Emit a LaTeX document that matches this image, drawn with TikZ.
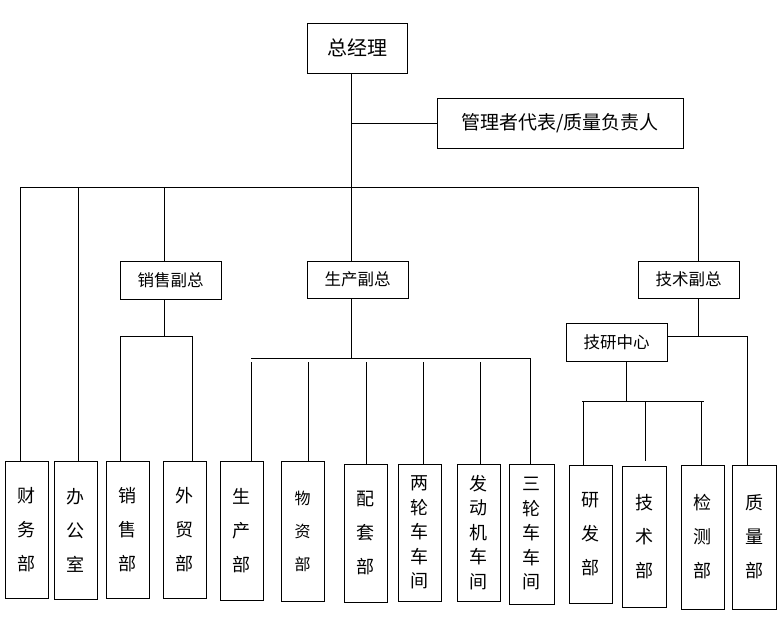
\documentclass[tikz,border=0pt]{standalone}
\usepackage{fontspec}
\setmainfont{Noto Sans CJK SC}
\begin{document}
\begin{tikzpicture}[x=1pt,y=-1pt,
  ln/.style={line width=0.9pt},
  box/.style={draw,line width=0.9pt,inner sep=0pt,align=center},
  topfont/.style={font=\fontsize{20}{22}\selectfont},
  repfont/.style={font=\fontsize{19}{22}\selectfont},
  midfont/.style={font=\fontsize{16.5}{18}\selectfont},
  vthree/.style={font=\fontsize{18}{34}\selectfont},
  vfive/.style={font=\fontsize{18}{24.5}\selectfont}]
\useasboundingbox (0,0) rectangle (781,618);
% upper boxes
\node[box,topfont,minimum width=100pt,minimum height=50pt] (top) at (357,48) {总经理};
\node[box,repfont,minimum width=246pt,minimum height=50pt] (rep) at (560,123) {管理者代表/质量负责人};
\node[box,midfont,minimum width=101pt,minimum height=38pt] (sales) at (170.5,280) {销售副总};
\node[box,midfont,minimum width=101pt,minimum height=37pt] (prod) at (357.5,279.5) {生产副总};
\node[box,midfont,minimum width=101pt,minimum height=37pt] (tech) at (688.5,279.5) {技术副总};
\node[box,midfont,minimum width=101pt,minimum height=38pt] (rnd) at (616.5,342) {技研中心};
% bottom boxes
\node[box,vthree,minimum width=43pt,minimum height=137pt] (fin) at (26.5,529.5) {财\\务\\部};
\node[box,vthree,minimum width=43pt,minimum height=138pt] (off) at (75.5,530) {办\\公\\室};
\node[box,vthree,minimum width=43pt,minimum height=137pt] (sal) at (127.5,529.5) {销\\售\\部};
\node[box,vthree,minimum width=43pt,minimum height=137pt] (ftr) at (184.5,529.5) {外\\贸\\部};
\node[box,vthree,minimum width=43pt,minimum height=139pt] (pdp) at (241.5,530.5) {生\\产\\部};
\node[box,font=\fontsize{16}{33}\selectfont,minimum width=43pt,minimum height=140pt] (mat) at (302.5,531) {物\\资\\部};
\node[box,vthree,minimum width=43pt,minimum height=138pt] (sup) at (365.5,533) {配\\套\\部};
\node[box,vfive,minimum width=43pt,minimum height=137pt] (two) at (419.5,532.5) {两\\轮\\车\\车\\间};
\node[box,vfive,minimum width=43pt,minimum height=137pt] (eng) at (478.5,532.5) {发\\动\\机\\车\\间};
\node[box,vfive,minimum width=45pt,minimum height=140pt] (thr) at (531.5,534) {三\\轮\\车\\车\\间};
\node[box,vthree,minimum width=43pt,minimum height=138pt] (dev) at (590.5,534) {研\\发\\部};
\node[box,vthree,minimum width=44pt,minimum height=141pt] (tcd) at (644,536.5) {技\\术\\部};
\node[box,vthree,minimum width=43pt,minimum height=144pt] (tst) at (702.5,537) {检\\测\\部};
\node[box,vthree,minimum width=44pt,minimum height=144pt] (qua) at (754,537) {质\\量\\部};
% junction coordinates
\coordinate (spine) at (351,187);
\coordinate (busL) at (20,187);
\coordinate (busR) at (698,187);
\coordinate (b2) at (78,187);
\coordinate (b3) at (164,187);
\coordinate (s1) at (164,336);
\coordinate (sL) at (120,336);
\coordinate (sR) at (192,336);
\coordinate (p1) at (351,358);
\coordinate (pL) at (251,358);
\coordinate (pR) at (530,358);
\coordinate (pt) at (0,362);
\coordinate (t1) at (698,336);
\coordinate (tR) at (747,336);
\coordinate (r1) at (626,401);
\coordinate (rL) at (582,401);
\coordinate (rR) at (704,401);
% connectors
\draw[ln] (top.south -| spine) -- (prod.north -| spine);
\draw[ln] (spine |- rep.west) -- (rep.west);
\draw[ln] (busL) -- (busR);
\draw[ln] (busL) -- (busL |- fin.north);
\draw[ln] (b2) -- (b2 |- off.north);
\draw[ln] (b3) -- (b3 |- sales.north);
\draw[ln] (busR) -- (busR |- tech.north);
% sales
\draw[ln] (sales.south -| s1) -- (s1);
\draw[ln] (sL) -- (sR);
\draw[ln] (sL) -- (sL |- sal.north);
\draw[ln] (sR) -- (sR |- ftr.north);
% production
\draw[ln] (prod.south -| p1) -- (p1);
\draw[ln] (pL) -- (pR);
\draw[ln] (pt -| pL) -- (pL |- pdp.north);
\draw[ln] (pt -| 308,0) -- (308,0 |- mat.north);
\draw[ln] (pt -| 366,0) -- (366,0 |- sup.north);
\draw[ln] (pt -| 423,0) -- (423,0 |- two.north);
\draw[ln] (pt -| 480,0) -- (480,0 |- eng.north);
\draw[ln] (pR) -- (pR |- thr.north);
% technology
\draw[ln] (tech.south -| t1) -- (t1);
\draw[ln] (rnd.east |- t1) -- (tR);
\draw[ln] (tR) -- (tR |- qua.north);
\draw[ln] (rnd.south -| r1) -- (r1);
\draw[ln] (rL) -- (rR);
\draw[ln] (583,401) -- (583,0 |- dev.north);
\draw[ln] (645,401) -- (645,461);
\draw[ln] (701,401) -- (701,0 |- tst.north);
\end{tikzpicture}
\end{document}
